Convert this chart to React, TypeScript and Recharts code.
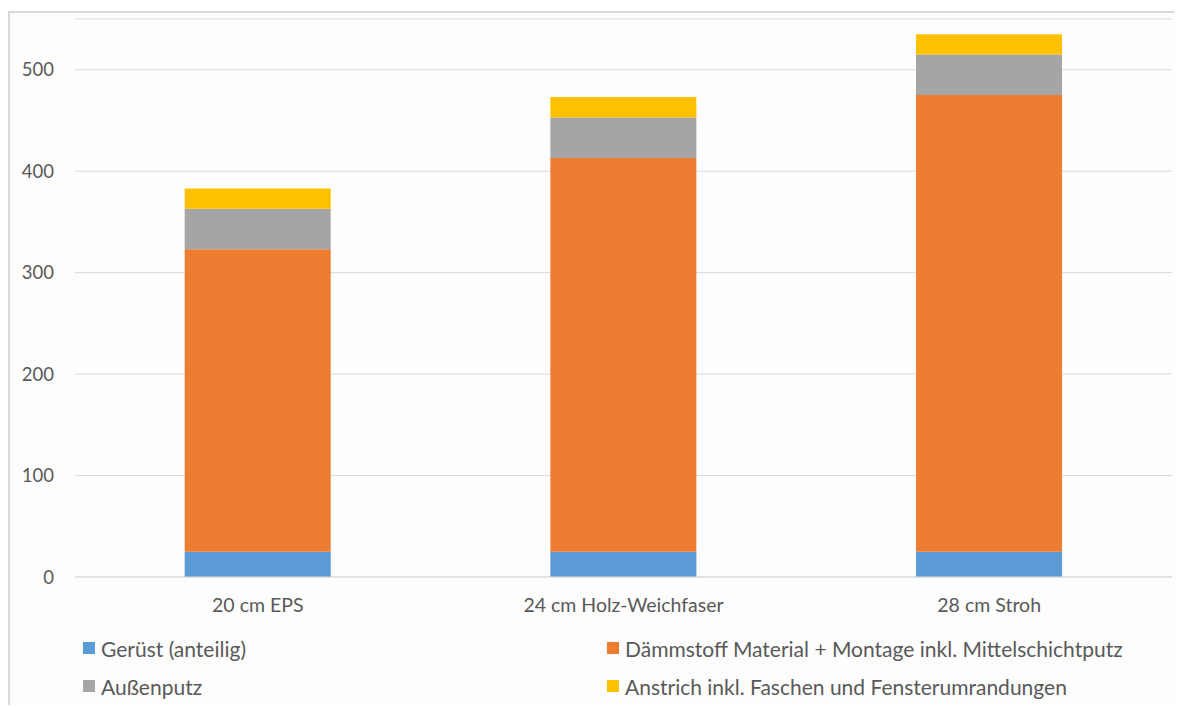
import { BarChart, Bar, XAxis, YAxis, CartesianGrid, Legend } from "recharts";

const categories = ["20 cm EPS", "24 cm Holz-Weichfaser", "28 cm Stroh"];
const geruest = [25, 25, 25];
const daemmstoff = [298, 388, 450];
const aussenputz = [40, 40, 40];
const anstrich = [20, 20, 20];
const yTicks = [0, 100, 200, 300, 400, 500];

const series = [
    { key: "geruest", name: "Gerüst (anteilig)", color: "#5B9BD5" },
    { key: "daemmstoff", name: "Dämmstoff Material + Montage inkl. Mittelschichtputz", color: "#ED7D31" },
    { key: "aussenputz", name: "Außenputz", color: "#A5A5A5" },
    { key: "anstrich", name: "Anstrich inkl. Faschen und Fensterumrandungen", color: "#FFC000" },
];

const data = categories.map((name, i) => ({
    name,
    geruest: geruest[i],
    daemmstoff: daemmstoff[i],
    aussenputz: aussenputz[i],
    anstrich: anstrich[i],
}));

const FONT = "Lato, 'Noto Sans', sans-serif";
const TEXT = "#595959";

const ChartLegend = () => (
    <div
        style={{
            display: "grid",
            gridTemplateColumns: "524px auto",
            gridAutoRows: "38px",
            paddingTop: 11,
            paddingLeft: 73,
            height: 69,
            fontFamily: FONT,
            fontSize: 21,
            color: TEXT,
        }}
    >
        {series.map((s) => (
            <div key={s.key} style={{ display: "flex", alignItems: "center" }}>
                <span style={{ width: 12, height: 12, background: s.color, marginRight: 6, display: "inline-block" }} />
                <span>{s.name}</span>
            </div>
        ))}
    </div>
);

export default function App() {
    return (
        <div style={{ marginTop: 3, borderTop: "2px solid #d9d9d9", borderLeft: "2px solid #d9d9d9", width: 1172, height: 692, background: "#fdfdfd", overflow: "hidden" }}>
            <BarChart
                width={1172}
                height={693}
                data={data}
                margin={{ top: 6, right: 10, left: 10, bottom: 8 }}
                barCategoryGap="30%"
            >
                <CartesianGrid vertical={false} stroke="#d9d9d9" />
                <XAxis
                    dataKey="name"
                    axisLine={{ stroke: "#d9d9d9" }}
                    tickLine={false}
                    tickSize={0}
                    tickMargin={21}
                    height={41}
                    tick={{ fill: TEXT, fontSize: 19.5, fontFamily: FONT }}
                />
                <YAxis
                    domain={[0, 550]}
                    ticks={yTicks}
                    axisLine={false}
                    tickLine={false}
                    tickSize={0}
                    tickMargin={21}
                    width={55}
                    tick={{ fill: TEXT, fontSize: 18.5, fontFamily: FONT }}
                />
                <Legend
                    verticalAlign="bottom"
                    content={() => <ChartLegend />}
                    wrapperStyle={{ left: 0, width: 1172, height: 80 }}
                />
                {series.map((s) => (
                    <Bar key={s.key} dataKey={s.key} name={s.name} stackId="a" fill={s.color} isAnimationActive={false} />
                ))}
            </BarChart>
        </div>
    );
}
